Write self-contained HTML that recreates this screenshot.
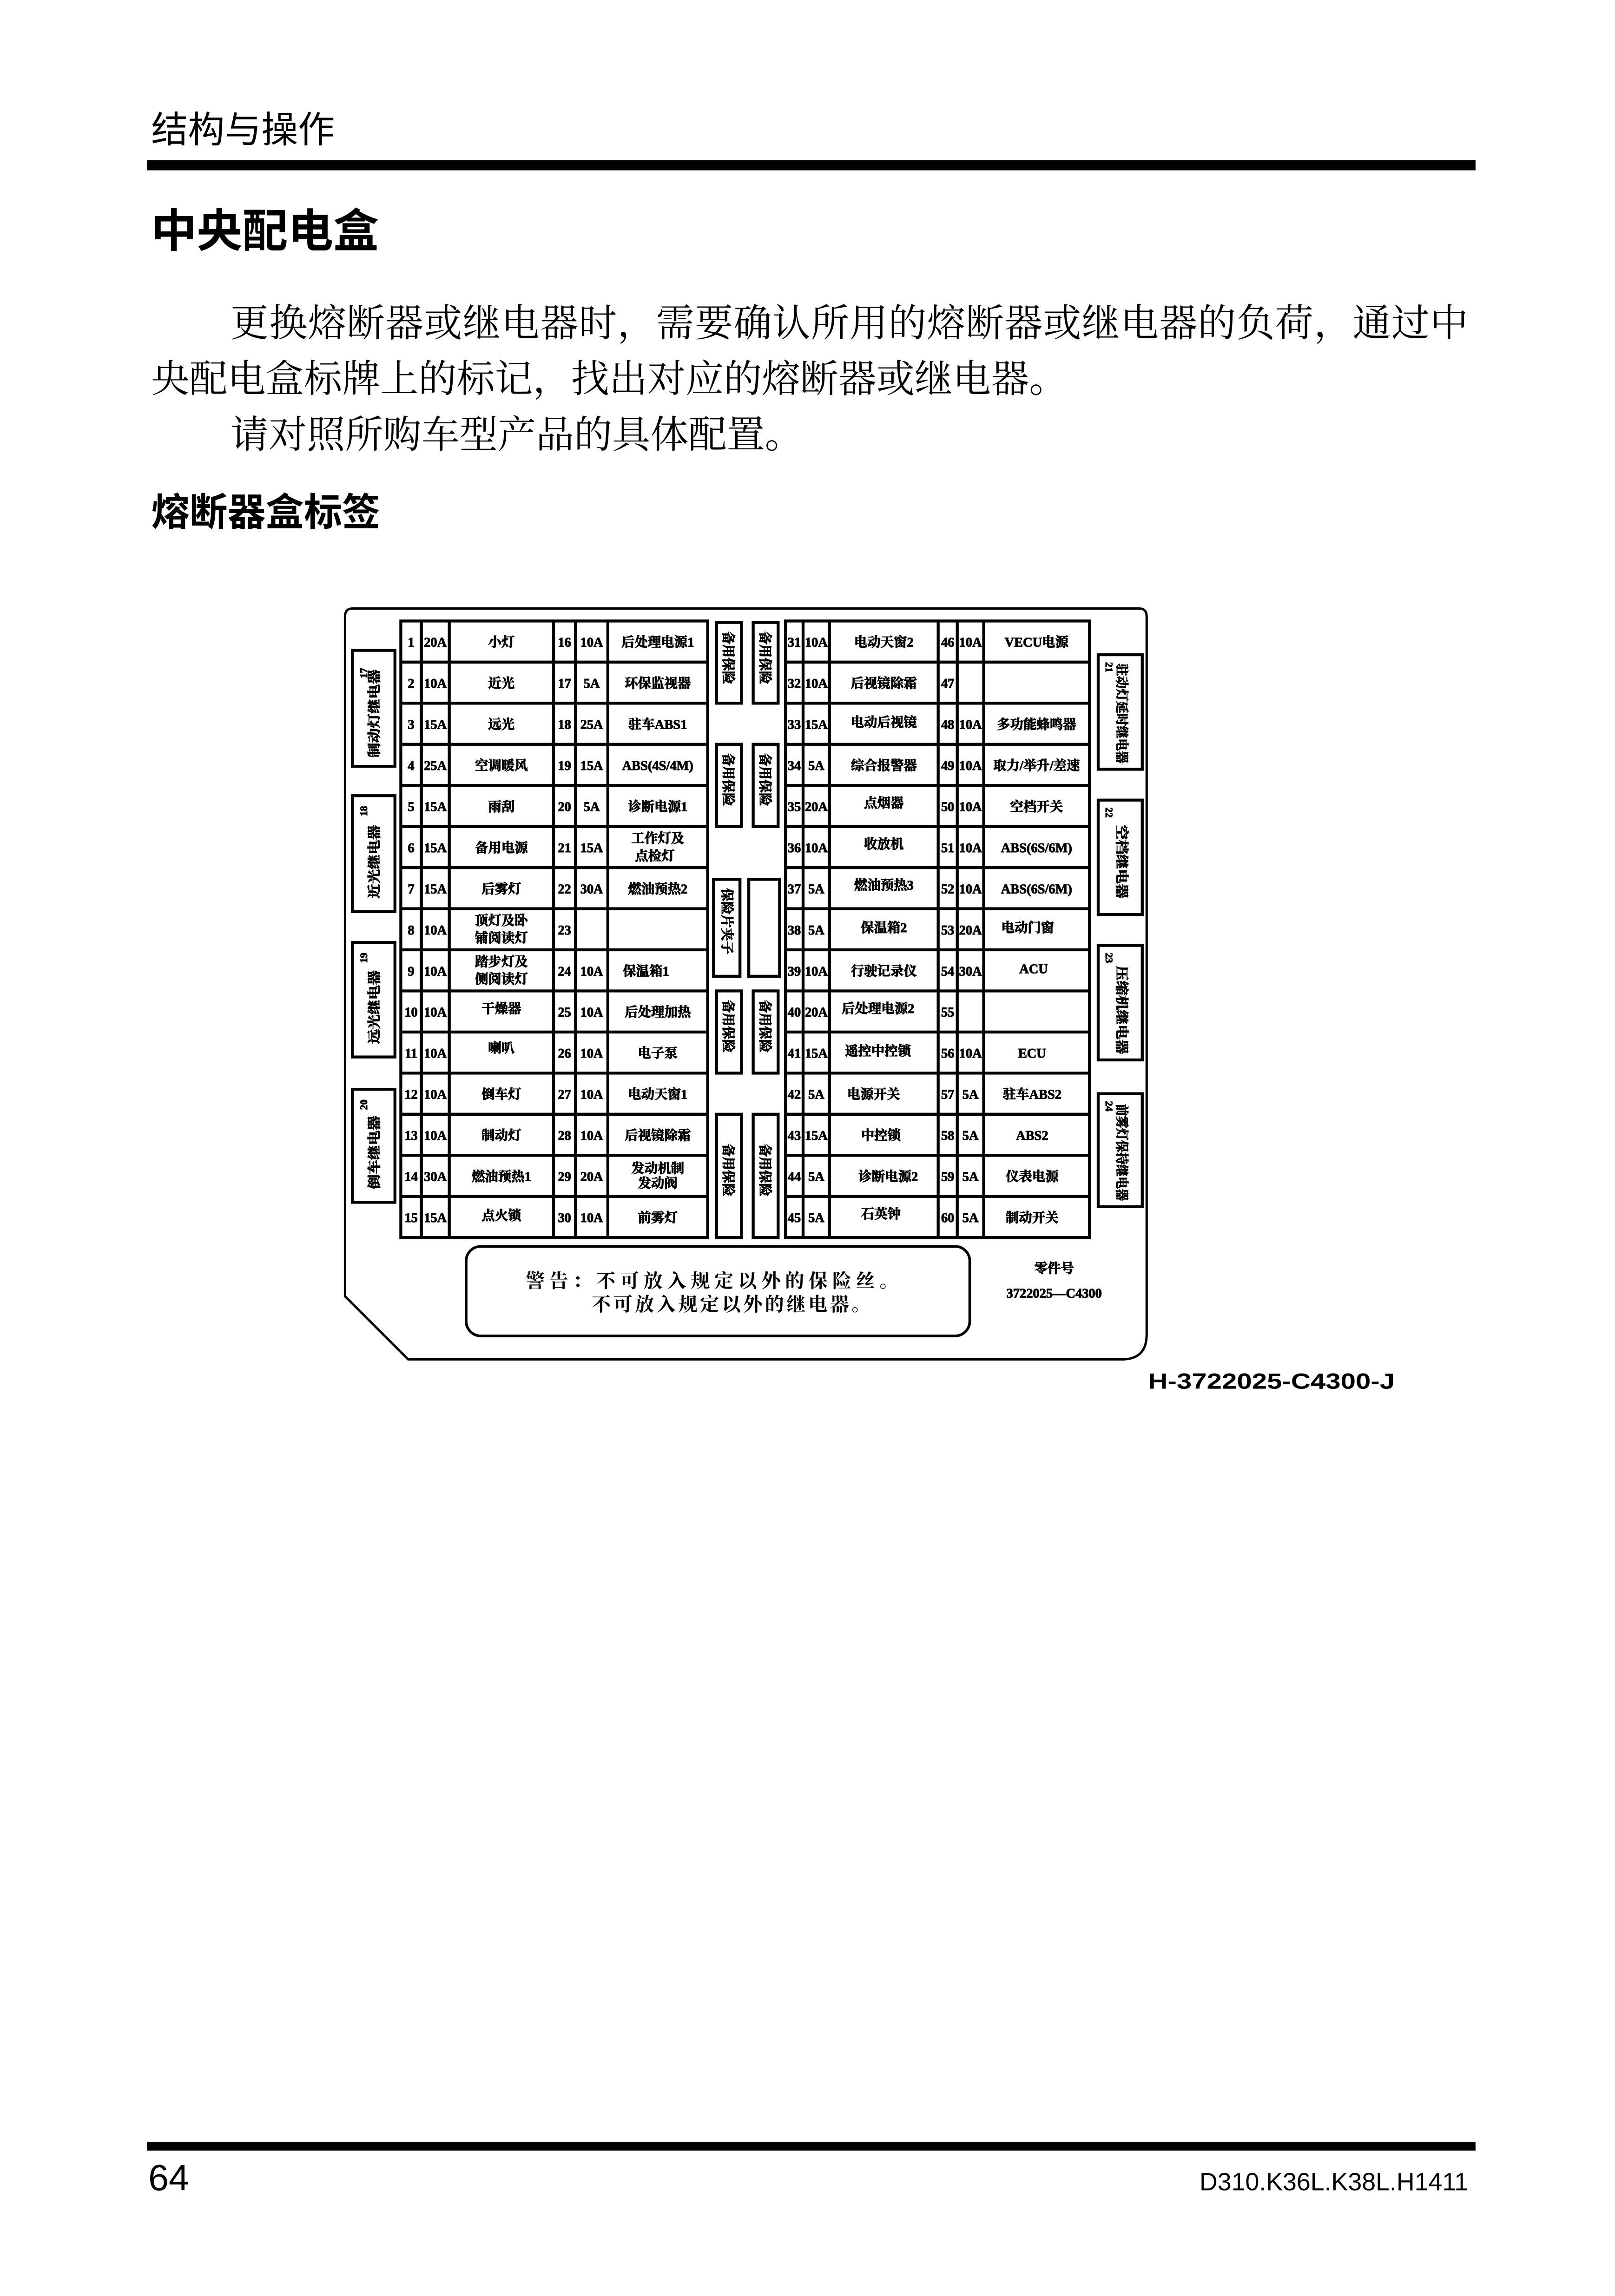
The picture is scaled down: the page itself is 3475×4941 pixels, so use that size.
<!DOCTYPE html>
<html><head><meta charset="utf-8">
<style>
html,body{margin:0;padding:0;background:#fff;}
svg{display:block;}
.c{font-family:"Liberation Serif","Noto Serif CJK SC",serif;font-weight:bold;font-size:9px;text-anchor:middle;fill:#000;stroke:#000;stroke-width:0.35;}
.v{font-family:"Liberation Serif","Noto Serif CJK SC",serif;font-weight:bold;font-size:9px;fill:#000;stroke:#000;stroke-width:0.35;}
</style></head>
<body>
<svg width="3475" height="4941" viewBox="0 0 1100 1564" xmlns="http://www.w3.org/2000/svg">
<rect x="0" y="0" width="1100" height="1564" fill="#fff"/>
<text x="103" y="97" font-family="Liberation Sans,'Noto Sans CJK SC',sans-serif" font-size="25">结构与操作</text>
<rect x="100" y="109" width="905" height="7" fill="#000"/>
<text x="103" y="168" font-family="Liberation Sans,'Noto Sans CJK SC',sans-serif" font-size="31" font-weight="bold">中央配电盒</text>
<g font-family="Liberation Serif,'Noto Serif CJK SC',serif" font-size="26">
<text x="157" y="229" textLength="843" lengthAdjust="spacing">更换熔断器或继电器时，需要确认所用的熔断器或继电器的负荷，通过中</text>
<text x="103" y="267">央配电盒标牌上的标记，找出对应的熔断器或继电器。</text>
<text x="157" y="305">请对照所购车型产品的具体配置。</text>
</g>
<text x="103" y="358" font-family="Liberation Sans,'Noto Sans CJK SC',sans-serif" font-size="26" font-weight="bold">熔断器盒标签</text>

<path d="M240,414.5 L776,414.5 Q781,414.5 781,420 L781,909 Q781,926 764,926 L278,926 L235,883 L235,420 Q235,414.5 240,414.5 Z" fill="none" stroke="#000" stroke-width="1.6"/>

<g stroke="#000" stroke-width="2" fill="none">
<rect x="273" y="423" width="209" height="420"/>
<line x1="287" y1="423" x2="287" y2="843"/><line x1="306" y1="423" x2="306" y2="843"/>
<line x1="377" y1="423" x2="377" y2="843"/><line x1="392" y1="423" x2="392" y2="843"/>
<line x1="414" y1="423" x2="414" y2="843"/>
<rect x="535" y="423" width="207" height="420"/>
<line x1="547" y1="423" x2="547" y2="843"/><line x1="565" y1="423" x2="565" y2="843"/>
<line x1="639" y1="423" x2="639" y2="843"/><line x1="652" y1="423" x2="652" y2="843"/>
<line x1="670" y1="423" x2="670" y2="843"/>
<path d="M273,451H482M273,479H482M273,507H482M273,535H482M273,563H482M273,591H482M273,619H482M273,647H482M273,675H482M273,703H482M273,731H482M273,759H482M273,787H482M273,815H482"/>
<path d="M535,451H742M535,479H742M535,507H742M535,535H742M535,563H742M535,591H742M535,619H742M535,647H742M535,675H742M535,703H742M535,731H742M535,759H742M535,787H742M535,815H742"/>
<rect x="488" y="424" width="17" height="55"/><rect x="513" y="424" width="17" height="55"/>
<rect x="488" y="507" width="17" height="56"/><rect x="513" y="507" width="17" height="56"/>
<rect x="486" y="599" width="18" height="66"/><rect x="510" y="599" width="21" height="66"/>
<rect x="488" y="675" width="17" height="56"/><rect x="513" y="675" width="17" height="56"/>
<rect x="488" y="759" width="17" height="84"/><rect x="513" y="759" width="17" height="84"/>
<rect x="240" y="443" width="29" height="79"/><rect x="240" y="542" width="29" height="79"/>
<rect x="240" y="642" width="29" height="78"/><rect x="240" y="742" width="29" height="77"/>
<rect x="748" y="446" width="30" height="78"/><rect x="748" y="545" width="30" height="78"/>
<rect x="748" y="644" width="30" height="78"/><rect x="748" y="745" width="30" height="77"/>
<rect x="317.5" y="849" width="343" height="61" rx="10" stroke-width="1.8"/>
</g>

<g class="v" font-size="7.5">
<text transform="translate(493,430) rotate(90)">备用保险</text><text transform="translate(518,430) rotate(90)">备用保险</text>
<text transform="translate(493,513) rotate(90)">备用保险</text><text transform="translate(518,513) rotate(90)">备用保险</text>
<text transform="translate(492,605) rotate(90)">保险片夹子</text>
<text transform="translate(493,681) rotate(90)">备用保险</text><text transform="translate(518,681) rotate(90)">备用保险</text>
<text transform="translate(493,779) rotate(90)">备用保险</text><text transform="translate(518,779) rotate(90)">备用保险</text>
</g>
<g class="v">
<text transform="translate(250,462) rotate(-90)" font-size="7">17</text>
<text transform="translate(258,516) rotate(-90)" textLength="60" lengthAdjust="spacingAndGlyphs">制动灯继电器</text>
<text transform="translate(250,556) rotate(-90)" font-size="7">18</text>
<text transform="translate(258,612) rotate(-90)" textLength="50" lengthAdjust="spacingAndGlyphs">近光继电器</text>
<text transform="translate(250,656) rotate(-90)" font-size="7">19</text>
<text transform="translate(258,711) rotate(-90)" textLength="50" lengthAdjust="spacingAndGlyphs">远光继电器</text>
<text transform="translate(250,756) rotate(-90)" font-size="7">20</text>
<text transform="translate(258,810) rotate(-90)" textLength="50" lengthAdjust="spacingAndGlyphs">倒车继电器</text>
<text transform="translate(753,451) rotate(90)" font-size="7">21</text>
<text transform="translate(761,452) rotate(90)" textLength="68" lengthAdjust="spacingAndGlyphs">驻动灯延时继电器</text>
<text transform="translate(753,550) rotate(90)" font-size="7">22</text>
<text transform="translate(761,562) rotate(90)" textLength="50" lengthAdjust="spacingAndGlyphs">空档继电器</text>
<text transform="translate(753,649) rotate(90)" font-size="7">23</text>
<text transform="translate(761,658) rotate(90)" textLength="60" lengthAdjust="spacingAndGlyphs">压缩机继电器</text>
<text transform="translate(753,750) rotate(90)" font-size="7">24</text>
<text transform="translate(761,752) rotate(90)" textLength="66" lengthAdjust="spacingAndGlyphs">前雾灯保持继电器</text>
</g>

<g class="c">
<text x="280" y="440.5">1</text><text x="296.5" y="440.5">20A</text><text x="341.5" y="440.5">小灯</text><text x="384.5" y="440.5">16</text><text x="403" y="440.5">10A</text><text x="448" y="440.5">后处理电源1</text>
<text x="280" y="468.5">2</text><text x="296.5" y="468.5">10A</text><text x="341.5" y="468.5">近光</text><text x="384.5" y="468.5">17</text><text x="403" y="468.5">5A</text><text x="448" y="468.5">环保监视器</text>
<text x="280" y="496.5">3</text><text x="296.5" y="496.5">15A</text><text x="341.5" y="496.5">远光</text><text x="384.5" y="496.5">18</text><text x="403" y="496.5">25A</text><text x="448" y="496.5">驻车ABS1</text>
<text x="280" y="524.5">4</text><text x="296.5" y="524.5">25A</text><text x="341.5" y="524.5">空调暖风</text><text x="384.5" y="524.5">19</text><text x="403" y="524.5">15A</text><text x="448" y="524.5">ABS(4S/4M)</text>
<text x="280" y="552.5">5</text><text x="296.5" y="552.5">15A</text><text x="341.5" y="552.5">雨刮</text><text x="384.5" y="552.5">20</text><text x="403" y="552.5">5A</text><text x="448" y="552.5">诊断电源1</text>
<text x="280" y="580.5">6</text><text x="296.5" y="580.5">15A</text><text x="341.5" y="580.5">备用电源</text><text x="384.5" y="580.5">21</text><text x="403" y="580.5">15A</text><text x="448" y="574">工作灯及</text><text x="446" y="586">点检灯</text>
<text x="280" y="608.5">7</text><text x="296.5" y="608.5">15A</text><text x="341.5" y="608.5">后雾灯</text><text x="384.5" y="608.5">22</text><text x="403" y="608.5">30A</text><text x="448" y="608.5">燃油预热2</text>
<text x="280" y="636.5">8</text><text x="296.5" y="636.5">10A</text><text x="341.5" y="630">顶灯及卧</text><text x="341.5" y="642">铺阅读灯</text><text x="384.5" y="636.5">23</text>
<text x="280" y="664.5">9</text><text x="296.5" y="664.5">10A</text><text x="341.5" y="658">踏步灯及</text><text x="341.5" y="670">侧阅读灯</text><text x="384.5" y="664.5">24</text><text x="403" y="664.5">10A</text><text x="440" y="664.5">保温箱1</text>
<text x="280" y="692.5">10</text><text x="296.5" y="692.5">10A</text><text x="341.5" y="690">干燥器</text><text x="384.5" y="692.5">25</text><text x="403" y="692.5">10A</text><text x="448" y="692.5">后处理加热</text>
<text x="280" y="720.5">11</text><text x="296.5" y="720.5">10A</text><text x="341.5" y="717">喇叭</text><text x="384.5" y="720.5">26</text><text x="403" y="720.5">10A</text><text x="448" y="720.5">电子泵</text>
<text x="280" y="748.5">12</text><text x="296.5" y="748.5">10A</text><text x="341.5" y="748.5">倒车灯</text><text x="384.5" y="748.5">27</text><text x="403" y="748.5">10A</text><text x="448" y="748.5">电动天窗1</text>
<text x="280" y="776.5">13</text><text x="296.5" y="776.5">10A</text><text x="341.5" y="776.5">制动灯</text><text x="384.5" y="776.5">28</text><text x="403" y="776.5">10A</text><text x="448" y="776.5">后视镜除霜</text>
<text x="280" y="804.5">14</text><text x="296.5" y="804.5">30A</text><text x="341.5" y="804.5">燃油预热1</text><text x="384.5" y="804.5">29</text><text x="403" y="804.5">20A</text><text x="448" y="799">发动机制</text><text x="448" y="809">发动阀</text>
<text x="280" y="832.5">15</text><text x="296.5" y="832.5">15A</text><text x="341.5" y="831">点火锁</text><text x="384.5" y="832.5">30</text><text x="403" y="832.5">10A</text><text x="448" y="832.5">前雾灯</text>
</g>
<g class="c">
<text x="541" y="440.5">31</text><text x="556" y="440.5">10A</text><text x="602" y="440.5">电动天窗2</text><text x="645.5" y="440.5">46</text><text x="661" y="440.5">10A</text><text x="706" y="440.5">VECU电源</text>
<text x="541" y="468.5">32</text><text x="556" y="468.5">10A</text><text x="602" y="468.5">后视镜除霜</text><text x="645.5" y="468.5">47</text>
<text x="541" y="496.5">33</text><text x="556" y="496.5">15A</text><text x="602" y="495">电动后视镜</text><text x="645.5" y="496.5">48</text><text x="661" y="496.5">10A</text><text x="706" y="496.5">多功能蜂鸣器</text>
<text x="541" y="524.5">34</text><text x="556" y="524.5">5A</text><text x="602" y="524.5">综合报警器</text><text x="645.5" y="524.5">49</text><text x="661" y="524.5">10A</text><text x="706" y="524.5">取力/举升/差速</text>
<text x="541" y="552.5">35</text><text x="556" y="552.5">20A</text><text x="602" y="550">点烟器</text><text x="645.5" y="552.5">50</text><text x="661" y="552.5">10A</text><text x="706" y="552.5">空档开关</text>
<text x="541" y="580.5">36</text><text x="556" y="580.5">10A</text><text x="602" y="578">收放机</text><text x="645.5" y="580.5">51</text><text x="661" y="580.5">10A</text><text x="706" y="580.5">ABS(6S/6M)</text>
<text x="541" y="608.5">37</text><text x="556" y="608.5">5A</text><text x="602" y="606">燃油预热3</text><text x="645.5" y="608.5">52</text><text x="661" y="608.5">10A</text><text x="706" y="608.5">ABS(6S/6M)</text>
<text x="541" y="636.5">38</text><text x="556" y="636.5">5A</text><text x="602" y="635">保温箱2</text><text x="645.5" y="636.5">53</text><text x="661" y="636.5">20A</text><text x="700" y="635">电动门窗</text>
<text x="541" y="664.5">39</text><text x="556" y="664.5">10A</text><text x="602" y="664.5">行驶记录仪</text><text x="645.5" y="664.5">54</text><text x="661" y="664.5">30A</text><text x="704" y="663">ACU</text>
<text x="541" y="692.5">40</text><text x="556" y="692.5">20A</text><text x="598" y="690">后处理电源2</text><text x="645.5" y="692.5">55</text>
<text x="541" y="720.5">41</text><text x="556" y="720.5">15A</text><text x="598" y="719">遥控中控锁</text><text x="645.5" y="720.5">56</text><text x="661" y="720.5">10A</text><text x="703" y="720.5">ECU</text>
<text x="541" y="748.5">42</text><text x="556" y="748.5">5A</text><text x="595" y="748.5">电源开关</text><text x="645.5" y="748.5">57</text><text x="661" y="748.5">5A</text><text x="703" y="748.5">驻车ABS2</text>
<text x="541" y="776.5">43</text><text x="556" y="776.5">15A</text><text x="600" y="776.5">中控锁</text><text x="645.5" y="776.5">58</text><text x="661" y="776.5">5A</text><text x="703" y="776.5">ABS2</text>
<text x="541" y="804.5">44</text><text x="556" y="804.5">5A</text><text x="605" y="804.5">诊断电源2</text><text x="645.5" y="804.5">59</text><text x="661" y="804.5">5A</text><text x="703" y="804.5">仪表电源</text>
<text x="541" y="832.5">45</text><text x="556" y="832.5">5A</text><text x="600" y="830">石英钟</text><text x="645.5" y="832.5">60</text><text x="661" y="832.5">5A</text><text x="703" y="832.5">制动开关</text>
</g>

<g font-family="Liberation Serif,'Noto Serif CJK SC',serif" font-size="13" font-weight="bold">
<text x="358" y="877" textLength="254" lengthAdjust="spacing">警告：不可放入规定以外的保险丝。</text>
<text x="403" y="893" textLength="190" lengthAdjust="spacing">不可放入规定以外的继电器。</text>
</g>
<text x="718" y="867" class="c" font-size="8">零件号</text>
<text x="718" y="884" class="c" font-size="7">3722025—C4300</text>

<text x="782" y="946" font-family="Liberation Sans,sans-serif" font-size="15" font-weight="bold" textLength="168" lengthAdjust="spacingAndGlyphs">H-3722025-C4300-J</text>

<rect x="100" y="1459" width="905" height="6" fill="#000"/>
<text x="101" y="1492" font-family="Liberation Sans,sans-serif" font-size="25">64</text>
<text x="1000" y="1492" text-anchor="end" font-family="Liberation Sans,sans-serif" font-size="17">D310.K36L.K38L.H1411</text>
</svg>
</body></html>
